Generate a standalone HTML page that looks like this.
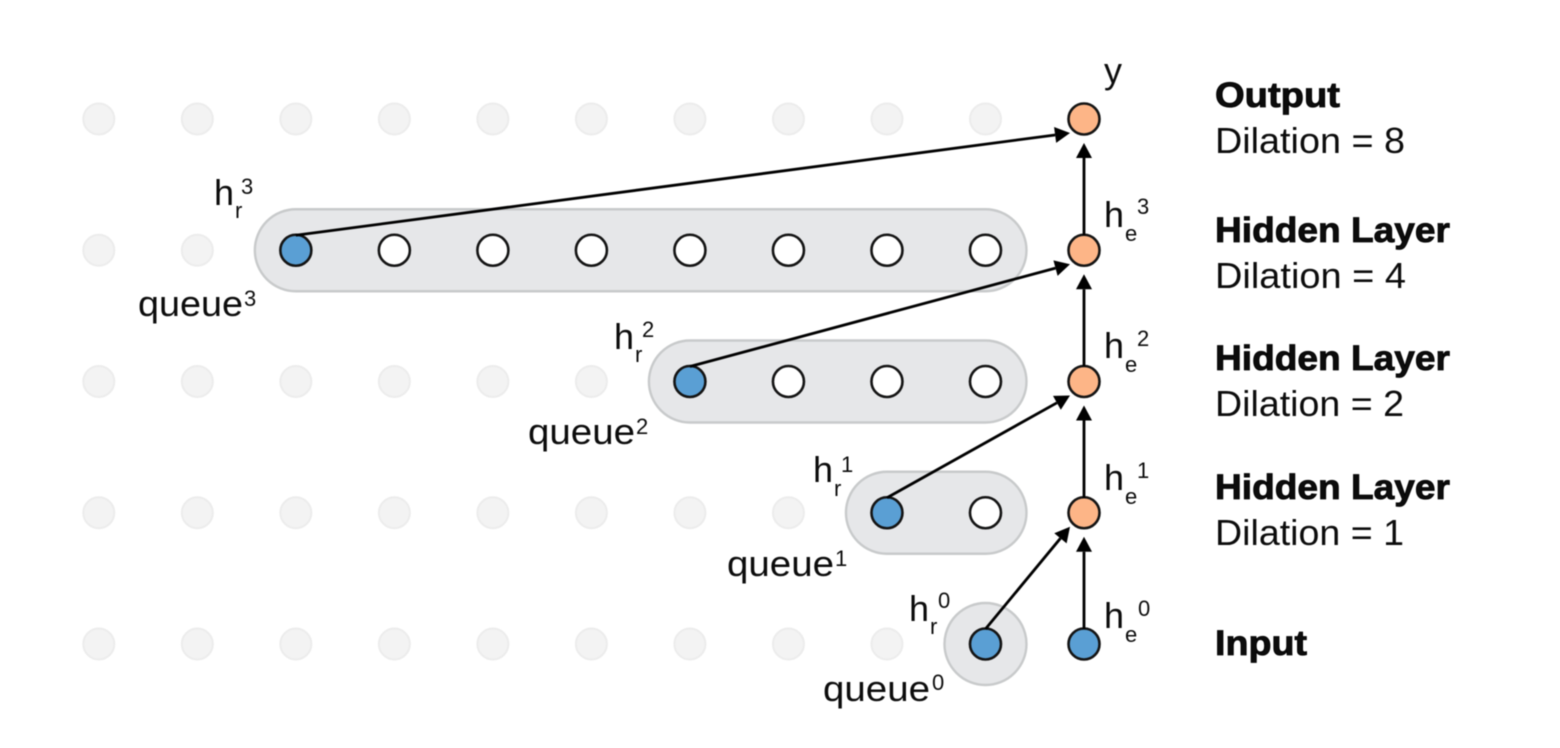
<!DOCTYPE html>
<html lang="en">
<head>
<meta charset="utf-8">
<title>Dilated queue diagram</title>
<style>
html,body{margin:0;padding:0;background:#fff;width:1560px;height:748px;overflow:hidden}
svg{display:block;filter:blur(0.55px)}
text{font-family:"Liberation Sans",sans-serif;fill:#0c0c0c}
.big{font-size:36px}
.small{font-size:22px}
.head{font-size:35px;font-weight:bold;stroke:#000;stroke-width:.8px}
.dil{font-size:36px}
</style>
</head>
<body>
<svg id="diagram" width="1560" height="748" viewBox="0 0 1560 748" xmlns="http://www.w3.org/2000/svg">
  <g id="capsules"></g>
  <g id="nodes"></g>
  <g id="arrows"></g>

  <g>
    <text class="big" x="1104" y="83">y</text>
  </g>

  <g>
    <g><text class="big" x="214" y="205">h</text><text class="small" x="235" y="218">r</text><text class="small" x="241" y="194">3</text></g>
    <g><text class="big" x="614" y="349">h</text><text class="small" x="635" y="362">r</text><text class="small" x="642" y="337">2</text></g>
    <g><text class="big" x="813" y="482">h</text><text class="small" x="834" y="496">r</text><text class="small" x="841" y="472">1</text></g>
    <g><text class="big" x="909" y="621">h</text><text class="small" x="930" y="634">r</text><text class="small" x="938" y="608">0</text></g>
  </g>

  <g>
    <g><text class="big" x="1104" y="227">h</text><text class="small" x="1125" y="241">e</text><text class="small" x="1137" y="214">3</text></g>
    <g><text class="big" x="1104" y="358">h</text><text class="small" x="1125" y="372">e</text><text class="small" x="1137" y="346">2</text></g>
    <g><text class="big" x="1104" y="490">h</text><text class="small" x="1125" y="504">e</text><text class="small" x="1137" y="478">1</text></g>
    <g><text class="big" x="1104" y="628">h</text><text class="small" x="1125" y="642">e</text><text class="small" x="1138" y="616">0</text></g>
  </g>

  <g>
    <g><text class="big" x="138" y="316" textLength="105" lengthAdjust="spacingAndGlyphs">queue</text><text class="small" x="244" y="306">3</text></g>
    <g><text class="big" x="528" y="444" textLength="107" lengthAdjust="spacingAndGlyphs">queue</text><text class="small" x="636" y="434">2</text></g>
    <g><text class="big" x="727" y="576" textLength="107" lengthAdjust="spacingAndGlyphs">queue</text><text class="small" x="835" y="566">1</text></g>
    <g><text class="big" x="823" y="701" textLength="107" lengthAdjust="spacingAndGlyphs">queue</text><text class="small" x="932" y="690">0</text></g>
  </g>

  <g>
    <text class="head" x="1215" y="107" textLength="125" lengthAdjust="spacingAndGlyphs">Output</text>
    <text class="dil" x="1215" y="153" textLength="190" lengthAdjust="spacingAndGlyphs">Dilation = 8</text>
    <text class="head" x="1215" y="242" textLength="235" lengthAdjust="spacingAndGlyphs">Hidden Layer</text>
    <text class="dil" x="1215" y="288" textLength="191" lengthAdjust="spacingAndGlyphs">Dilation = 4</text>
    <text class="head" x="1215" y="370" textLength="235" lengthAdjust="spacingAndGlyphs">Hidden Layer</text>
    <text class="dil" x="1215" y="416" textLength="189" lengthAdjust="spacingAndGlyphs">Dilation = 2</text>
    <text class="head" x="1215" y="499" textLength="235" lengthAdjust="spacingAndGlyphs">Hidden Layer</text>
    <text class="dil" x="1215" y="545" textLength="189" lengthAdjust="spacingAndGlyphs">Dilation = 1</text>
    <text class="head" x="1215" y="655" textLength="92" lengthAdjust="spacingAndGlyphs">Input</text>
  </g>
</svg>
<script>
// Each entry is one layer, ordered bottom (input) to top (output).
var layerNames = ['input', 'hidden-1', 'hidden-2', 'hidden-3', 'output'];
var queueLengths = [1, 2, 4, 8, 0];
var encoderKinds = ['input', 'hidden', 'hidden', 'hidden', 'hidden'];
var columnCount = 10;

var NS = 'http://www.w3.org/2000/svg';
var gCaps = document.getElementById('capsules');
var gNodes = document.getElementById('nodes');
var gArrows = document.getElementById('arrows');

function xAxis(col) { return 98.8 + col * 98.52; }
function yAxis(level) { return 644 - level * 131.25; }

function make(tag, attrs, parent) {
  var el = document.createElementNS(NS, tag);
  for (var k in attrs) el.setAttribute(k, attrs[k]);
  parent.appendChild(el);
  return el;
}

function drawArrow(x1, y1, x2, y2, name) {
  var dx = x2 - x1, dy = y2 - y1, len = Math.sqrt(dx * dx + dy * dy);
  var ux = dx / len, uy = dy / len, head = 15, half = 8;
  var bx = x2 - ux * head, by = y2 - uy * head;
  var g = make('g', {}, gArrows);
  
  
  make('line', {x1: x1, y1: y1, x2: bx, y2: by, stroke: '#000', 'stroke-width': 2.8}, g);
  make('polygon', {points: x2 + ',' + y2 + ' ' + (bx - uy * half) + ',' + (by + ux * half) + ' ' + (bx + uy * half) + ',' + (by - ux * half), fill: '#000'}, g);
}

function drawNode(cx, cy, r, fill, stroke, sw, name) {
  var c = make('circle', {cx: cx, cy: cy, r: r, fill: fill, stroke: stroke, 'stroke-width': sw}, gNodes);
  
  
}

var BLUE = '#5a9fd4', ORANGE = '#fdb587', DARK = '#141414';
var encoderCol = columnCount;

layerNames.forEach(function (layer, level) {
  var qLen = queueLengths[level];
  var firstQueueCol = columnCount - qLen;
  var cy = yAxis(level);

  // queue capsule
  if (qLen > 0) {
    var rect = make('rect', {
      x: xAxis(firstQueueCol) - 41, y: cy - 41,
      width: xAxis(columnCount - 1) - xAxis(firstQueueCol) + 82, height: 82,
      rx: 41, ry: 41, fill: '#e6e7e9', stroke: '#c8cacb', 'stroke-width': 2.4
    }, gCaps);
    
    
  }

  // grid columns
  for (var col = 0; col < columnCount; col++) {
    if (col < firstQueueCol) {
      drawNode(xAxis(col), cy, 15.5, '#f3f3f3', '#ececec', 2, 'inactive-node');
    } else if (col === firstQueueCol) {
      drawNode(xAxis(col), cy, 15.5, BLUE, DARK, 2.6, 'queue-head-node');
    } else {
      drawNode(xAxis(col), cy, 15.5, '#fff', DARK, 2.6, 'queue-node');
    }
  }

  // encoder column
  drawNode(xAxis(encoderCol), cy, 15.5, encoderKinds[level] === 'input' ? BLUE : ORANGE, DARK, 2.6, 'encoder-node-' + layer);

  // arrows into next layer
  if (level < layerNames.length - 1) {
    var tx = xAxis(encoderCol), ty = yAxis(level + 1);
    drawArrow(tx, cy - 15, tx, ty + 24, 'encoder-arrow-' + layer);
    drawArrow(xAxis(firstQueueCol), cy - 15, tx - 14, ty + 14, 'queue-arrow-' + layer);
  }
});
</script>
</body>
</html>
